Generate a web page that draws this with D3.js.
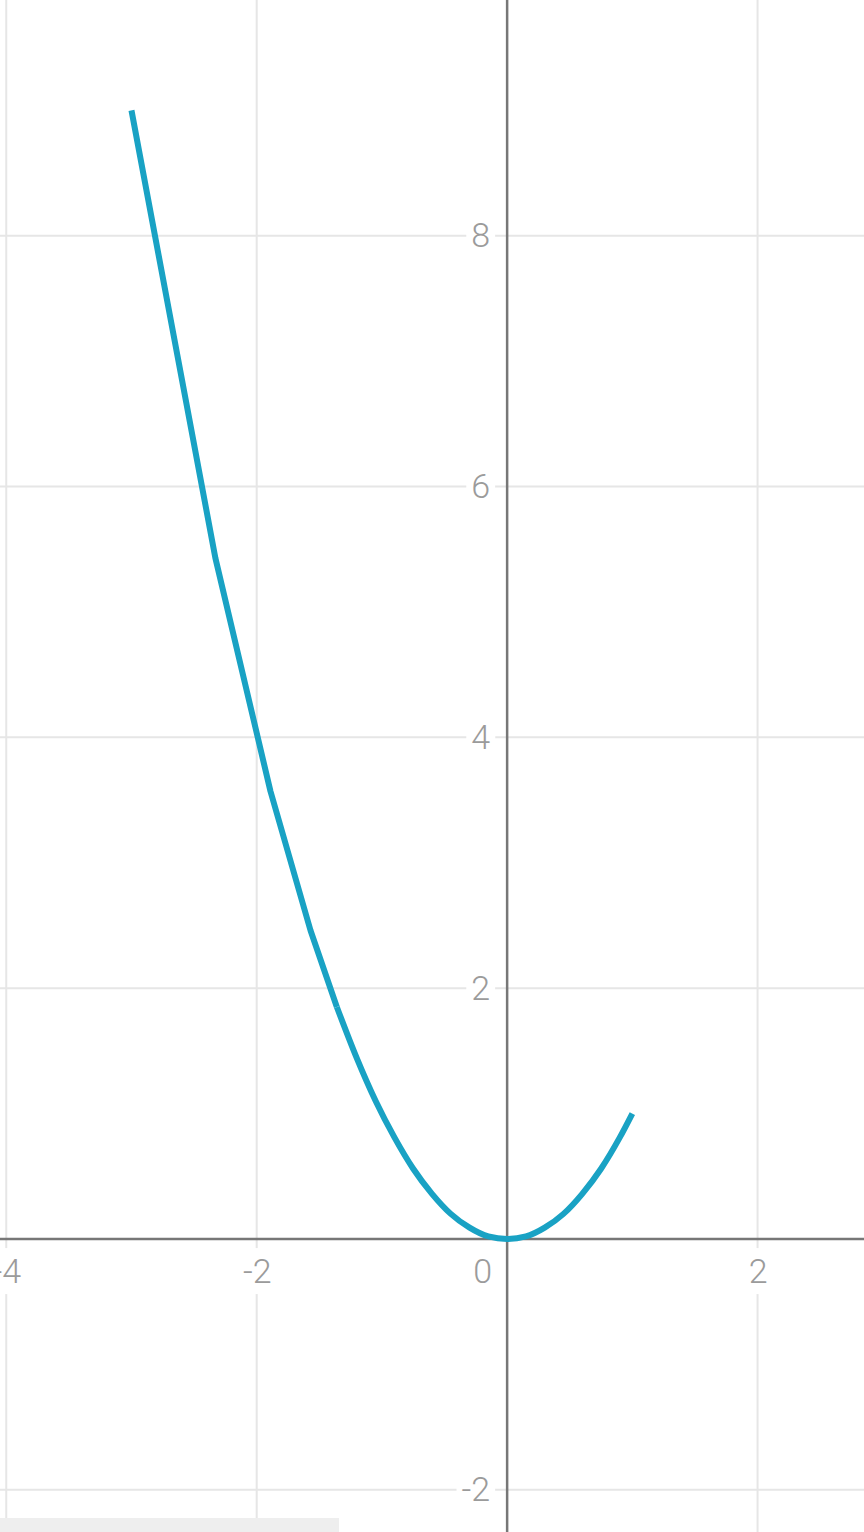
<!DOCTYPE html>
<html><head><meta charset="utf-8">
<script src="https://cdn.jsdelivr.net/npm/d3@7"></script>
<style>
html,body{margin:0;padding:0;background:#fff;}
svg{display:block;}
.tick text{font-family:Roboto,"Open Sans",sans-serif;font-weight:300;font-size:34px;fill:#9b9b9b;}
</style>
</head><body>
<svg id="chart" width="864" height="1532"></svg>
<script>
// ---- data ----
// coarse sampled part (visible kinks)
const coarseX = [-3.0, -2.33, -1.89, -1.57, -1.36];
const coarseY = [9.0, 5.43, 3.57, 2.46, 1.85];
// smooth part
const fineX = [-1.36, -1.2, -1.05, -0.9, -0.75, -0.6, -0.45, -0.3, -0.15, 0.0, 0.15, 0.3, 0.45, 0.6, 0.75, 0.9, 1.0];
const fineY = [1.85, 1.44, 1.10, 0.81, 0.56, 0.36, 0.20, 0.09, 0.02, 0.0, 0.02, 0.09, 0.20, 0.36, 0.56, 0.81, 1.0];
const xTicks = [-4, -2, 2];
const yTicks = [-2, 2, 4, 6, 8];
const xDomain = [-4.05, 2.85];
const yDomain = [-2.337, 9.88];

const W = 864, H = 1532;
const svg = d3.select('#chart');
const x = d3.scaleLinear().domain(xDomain).range([0, W]);
const y = d3.scaleLinear().domain(yDomain).range([H, 0]);
const fmt = d => String(d);

// grid lines
const grid = svg.append('g');
grid.selectAll('line.vx').data(xTicks).join('line')
  .attr('x1', d => x(d)).attr('x2', d => x(d)).attr('y1', 0).attr('y2', H)
  .attr('stroke', '#e6e6e6').attr('stroke-width', 2);
grid.selectAll('line.hy').data(yTicks).join('line')
  .attr('y1', d => y(d)).attr('y2', d => y(d)).attr('x1', 0).attr('x2', W)
  .attr('stroke', '#e6e6e6').attr('stroke-width', 2);

// bottom grey bar
svg.append('rect').attr('x', 0).attr('y', 1518).attr('width', 339).attr('height', 14).attr('fill', '#eeeeee');

// x tick labels via axis
const xAxis = svg.append('g').attr('transform', `translate(0,${y(0)})`)
  .call(d3.axisBottom(x).tickValues(xTicks).tickSize(0).tickPadding(20).tickFormat(fmt));
xAxis.select('.domain').remove();
xAxis.selectAll('.tick text').attr('dy', '0.71em');

const yAxis = svg.append('g').attr('transform', `translate(${x(0)},0)`)
  .call(d3.axisLeft(y).tickValues(yTicks).tickSize(0).tickPadding(17).tickFormat(fmt));
yAxis.select('.domain').remove();

// origin label
svg.append('g').attr('class', 'tick').append('text')
  .attr('x', x(0) - 15).attr('y', y(0) + 20).attr('dy', '0.71em')
  .attr('text-anchor', 'end').text('0');

// white boxes behind labels
svg.selectAll('.tick text').each(function() {
  const b = this.getBBox();
  const g = this.parentNode;
  d3.select(g).insert('rect', 'text')
    .attr('x', b.x - 5).attr('y', b.y - 3).attr('width', b.width + 10).attr('height', b.height + 6)
    .attr('fill', '#fff');
});

// main axes
svg.append('line').attr('x1', 0).attr('x2', W).attr('y1', y(0)).attr('y2', y(0))
  .attr('stroke', '#777').attr('stroke-width', 2.5);
svg.append('line').attr('x1', x(0)).attr('x2', x(0)).attr('y1', 0).attr('y2', H)
  .attr('stroke', '#777').attr('stroke-width', 2.5);

// curve
const coarse = coarseX.map((d, i) => [d, coarseY[i]]);
const fine = fineX.map((d, i) => [d, fineY[i]]);
const style = p => p.attr('fill', 'none').attr('stroke', '#19a2c4').attr('stroke-width', 6)
  .attr('stroke-linejoin', 'round');
svg.append('path').datum(coarse)
  .attr('d', d3.line().x(d => x(d[0])).y(d => y(d[1])).curve(d3.curveLinear)).call(style);
svg.append('path').datum(fine)
  .attr('d', d3.line().x(d => x(d[0])).y(d => y(d[1])).curve(d3.curveMonotoneX)).call(style);
</script>
</body></html>
